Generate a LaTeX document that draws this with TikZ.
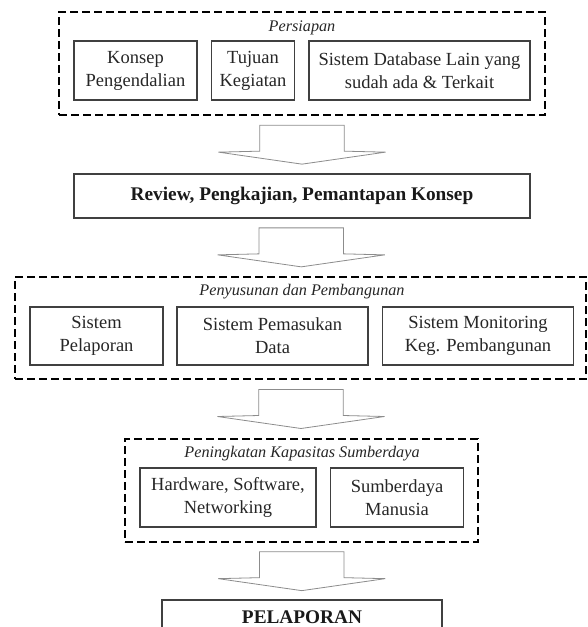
\documentclass[tikz,border=0pt]{standalone}
\usepackage{fontspec}
\setmainfont{Liberation Serif}
\usetikzlibrary{calc}
\begin{document}
\begin{tikzpicture}[x=1pt,y=-1pt,
  grp/.style={draw=black, line width=1.8pt, dash pattern=on 8pt off 4pt, inner sep=0pt},
  grplabel/.style={font=\fontsize{16.2}{18}\selectfont\itshape, text=black!85, inner sep=0pt},
  box/.style={draw=black!75, line width=1.2pt, inner sep=0pt, align=center, text=black!85,
    font=\fontsize{18.5}{23}\selectfont, minimum height=59pt},
  wide/.style={draw=black!75, line width=1.2pt, inner sep=0pt, align=center, text=black!90,
    font=\fontsize{19.3}{22}\selectfont\bfseries},
  arrowline/.style={draw=black!45, line width=0.8pt, fill=white, line join=miter},
  bigarrow/.pic={\path[arrowline] (-42.2,-19.5) -- (42.2,-19.5) -- (42.2,6.5) -- (83.5,7.5)
     -- (0,19.5) -- (-83.5,7.5) -- (-42.2,6.5) -- cycle;}
]
\useasboundingbox (0,0) rectangle (587,627);
% group 1
\node[grp, minimum width=486pt, minimum height=103pt] (g1) at (302,63.5) {};
\node[grplabel] (l1) at (302,28) {Persiapan};
\node[box, minimum width=123pt] (b11) at (135.5,70.5) {Konsep\\Pengendalian};
\node[box, minimum width=83.5pt] (b12) at (253,70.5) {Tujuan\\Kegiatan};
\node[box, minimum width=221pt] (b13) at (419.5,70.5) {Sistem Database Lain yang\\sudah ada \& Terkait};
% review
\node[wide, minimum width=456pt, minimum height=44pt] (rev) at (302,196) {Review, Pengkajian, Pemantapan Konsep};
% group 2
\node[grp, minimum width=571pt, minimum height=102pt] (g2) at (300.5,328) {};
\node[grplabel] (l2) at (302,292) {Penyusunan dan Pembangunan};
\node[box, minimum width=133pt, minimum height=58pt] (b21) at (96.5,336) {Sistem\\Pelaporan};
\node[box, minimum width=191pt, minimum height=58pt] (b22) at (272.5,336) {Sistem Pemasukan\\Data};
\node[box, minimum width=190.5pt, minimum height=58pt] (b23) at (478,336) {Sistem Monitoring\\Keg. Pembangunan};
% group 3
\node[grp, minimum width=353pt, minimum height=103pt] (g3) at (301.5,490.5) {};
\node[grplabel] (l3) at (302,454) {Peningkatan Kapasitas Sumberdaya};
\node[box, minimum width=176pt] (b31) at (228,497.5) {Hardware, Software,\\Networking};
\node[box, minimum width=133pt] (b32) at (397,497.5) {Sumberdaya\\Manusia};
% final
\node[wide, minimum width=280pt, minimum height=34pt] (fin) at (302,617) {PELAPORAN};
% block arrows
\pic at ($(g1.south)!0.5!(rev.north)$) {bigarrow};
\pic at ($(rev.south)!0.5!(g2.north)$) {bigarrow};
\pic at ($(g2.south)!0.5!(g3.north)$) {bigarrow};
\pic at ($(g3.south)!0.5!(fin.north)$) {bigarrow};
\end{tikzpicture}
\end{document}
